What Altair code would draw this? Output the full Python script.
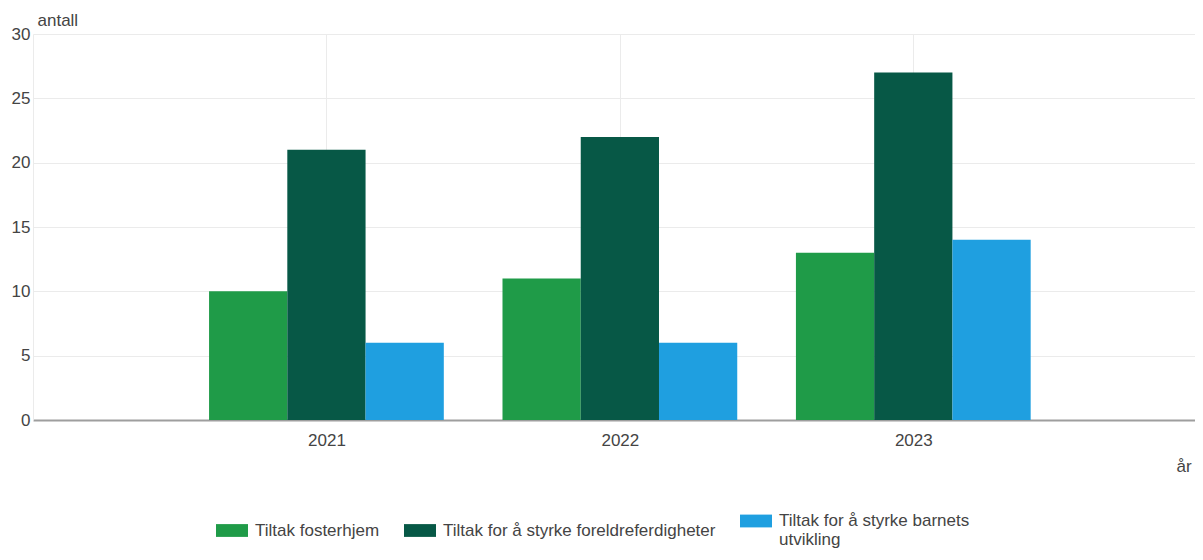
import altair as alt
import pandas as pd

years = [2021, 2022, 2023]
series = [
    "Tiltak fosterhjem",
    "Tiltak for å styrke foreldreferdigheter",
    "Tiltak for å styrke barnets utvikling",
]
fosterhjem = [10, 11, 13]
foreldre = [21, 22, 27]
barnets = [6, 6, 14]
colors = ["#1f9b48", "#075846", "#1f9fe0"]

rows = []
for i, s in enumerate(series):
    vals = [fosterhjem, foreldre, barnets][i]
    for y, v in zip(years, vals):
        rows.append({"år": y, "serie": s, "antall": v, "idx": i})
df = pd.DataFrame(rows)

FONT = "Liberation Sans"
FS = 17
TXT = "#444444"

chart = (
    alt.Chart(df)
    .transform_calculate(
        x0="datum['år'] - 0.4 + datum.idx * 0.8 / 3",
        x1="datum['år'] - 0.4 + (datum.idx + 1) * 0.8 / 3",
    )
    .mark_bar(orient="vertical")
    .encode(
        x=alt.X(
            "x0:Q",
            scale=alt.Scale(domain=[2020, 2023.96], nice=False, zero=False, padding=0),
            axis=alt.Axis(
                values=years,
                format="d",
                grid=True,
                gridColor="#ebebeb",
                tickSize=0,
                labelPadding=12,
                labelFontSize=FS,
                labelColor=TXT,
                labelFont=FONT,
                domainColor="#9e9e9e",
                domainWidth=2,
                title="år",
                titleX=1143,
                titleY=46,
                titleAlign="left",
                titleBaseline="middle",
                titleFontWeight="normal",
                titleFontSize=FS,
                titleFont=FONT,
                titleColor=TXT,
            ),
        ),
        x2="x1:Q",
        y=alt.Y(
            "antall:Q",
            scale=alt.Scale(domain=[0, 30], nice=False, padding=0),
            axis=alt.Axis(
                values=[0, 5, 10, 15, 20, 25, 30],
                grid=True,
                gridColor="#ebebeb",
                tickSize=0,
                labelPadding=3,
                labelFontSize=FS,
                labelColor=TXT,
                labelFont=FONT,
                domainColor="#ebebeb",
                title="antall",
                titleAngle=0,
                titleX=4,
                titleY=-14,
                titleAlign="left",
                titleBaseline="middle",
                titleFontWeight="normal",
                titleFontSize=FS,
                titleFont=FONT,
                titleColor=TXT,
            ),
        ),
        y2=alt.datum(0),
        color=alt.Color(
            "serie:N",
            scale=alt.Scale(domain=series, range=colors),
            sort=series,
            legend=alt.Legend(
                title=None,
                orient="none",
                legendX=183,
                legendY=471,
                direction="horizontal",
                symbolType="M-1,-0.4L1,-0.4L1,0.4L-1,0.4Z",
                symbolSize=1024,
                symbolStrokeWidth=0,
                labelOffset=7,
                columnPadding=24,
                labelFontSize=FS,
                labelFont=FONT,
                labelColor=TXT,
                labelLimit=500,
                labelExpr="datum.label == 'Tiltak for å styrke barnets utvikling' ? ['Tiltak for å styrke barnets', 'utvikling'] : datum.label",
            ),
        ),
    )
    .properties(
        width=1162,
        height=386,
        autosize=alt.AutoSizeParams(type="none"),
        padding={"left": 25, "top": 26, "right": 0, "bottom": 129},
    )
    .configure_view(stroke=None)
)

chart.save("out.html", embed_options={"renderer": "svg", "actions": False})
